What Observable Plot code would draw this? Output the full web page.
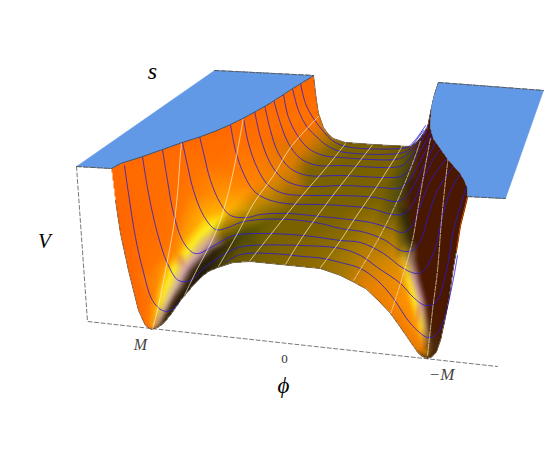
<!DOCTYPE html>
<html><head><meta charset="utf-8">
<style>html,body{margin:0;padding:0;background:#fff}svg{display:block}</style>
<script src="https://cdn.jsdelivr.net/npm/d3@7"></script>
<script src="https://cdn.jsdelivr.net/npm/@observablehq/plot@0.6"></script>
</head><body>
<script>
// All coordinates.
const silhouette = [[111,168],[120,163],[142,156],[162,149],[180,142.5],[199,136.5],[215,130.5],[229,124.5],[243,117.5],[256,110.5],[270,102.5],[283,94],[292,88],[302,82],[313,75],
[316,100],[318,113],[323,127],[328,134],[333,138],[345,142],[373,144],[400,145.5],[410,146],[418,140],[424,132],[427,127],[431,107],[434,94],[438,82],[431,107],[430,127],[433,138],[440,148],[447,158],[453,165],[460,173],[464,180],[467,187],[467,196],
[465,205],[460,225],[456,250],[453,267],[449,295],[445,317],[440,340],[436,351],[432,356],[427,358],[422,356],[418,353],[407,337],[398,324],[390,313],[378,300],[365,288],[352,281],[340,275],[320,268],[290,265],[270,263],[250,261],[233,262],[217,267],[208,271],[200,277],[190,288],[180,300],[171,313],[163,323],[157,327],[151,329],[145,325],[138,310],[128,270],[120,233],[115,200]];
const plateLeft = [[76,166],[214,70],[313,75],[302,82],[292,88],[283,94],[270,102.5],[256,110.5],[243,117.5],[229,124.5],[215,130.5],[199,136.5],[180,142.5],[162,149],[142,156],[120,163],[111,168]];
const plateRight = [[438,82],[543,90],[505,198],[467,196],[467,187],[464,180],[460,173],[453,165],[447,158],[440,148],[433,138],[430,127],[431,107],[434,94]];
const contours = [
 [[124,165],[128,193],[135,237],[142,268],[152,300],[162,310],[170,310],[178,302]],
 [[225,262],[240,254],[270,253],[303,256],[323,258],[340,262],[360,268],[377,280],[393,298],[410,323],[427,337],[435,335],[443,320],[452,283],[457,255]],
 [[142,156],[148,193],[157,233],[167,263],[178,280],[190,280],[203,268],[220,256],[235,248],[250,245],[300,245],[340,248],[360,255],[377,267],[400,283],[413,297],[425,305],[435,302],[443,283],[448,260],[453,230],[460,205],[466,186]],
 [[162,149],[167,180],[173,213],[182,240],[192,252],[198,253],[217,243],[233,235],[263,233],[303,235],[340,240],[360,242],[383,253],[403,268],[417,273],[425,268],[435,247],[441,220],[450,190],[460,173]],
 [[182,142],[187,165],[193,190],[203,215],[215,229],[225,228],[240,222],[260,219],[290,219],[320,223],[340,228],[365,232],[385,240],[400,250],[412,250],[420,240],[428,215],[437,190],[453,165]],
 [[199,136],[203,152],[210,180],[220,203],[230,215],[247,217],[260,214],[287,213],[320,216],[340,218],[370,222],[390,228],[402,232],[412,225],[420,205],[430,180],[447,157]],
 [[230,124],[235,150],[243,173],[253,190],[265,198],[285,203],[320,204],[340,205],[370,208],[392,214],[404,213],[413,202],[422,180],[432,160],[440,148]],
 [[243,117],[248,143],[257,168],[268,185],[283,193],[310,195],[340,195],[375,197],[395,201],[405,197],[415,182],[425,162],[435,142]],
 [[254,110],[260,137],[270,163],[282,178],[298,185],[320,186],[340,185],[380,187],[398,188],[407,182],[417,166],[425,150],[432,135]],
 [[264,104],[270,130],[278,153],[290,168],[307,175],[340,175],[385,177],[400,176],[408,170],[418,153],[426,140],[431,130]],
 [[273,99],[280,123],[288,143],[300,158],[317,165],[340,165],[390,167],[402,165],[410,157],[419,144],[427,130]],
 [[283,94],[288,117],[297,135],[308,148],[323,155],[340,157],[395,159],[404,156],[412,148],[420,137],[428,124]],
 [[292,88],[298,110],[307,127],[318,138],[325,144],[340,151],[398,153],[407,150],[414,142],[423,130]],
 [[300,83],[305,103],[313,118],[323,131],[332,140],[345,146],[400,148],[408,146],[416,138],[425,125]]
];
const whiteLines = [
 [[152,329],[158,305],[165,270],[173,227],[177,193],[180,153],[181,143]],
 [[183,297],[195,272],[213,237],[223,210],[233,170],[243,117]],
 [[218,266],[237,233],[253,203],[273,175],[290,147],[319,115]],
 [[248,262],[275,228],[300,197],[325,168],[345,143]],
 [[285,264],[303,235],[330,198],[352,170],[373,143]],
 [[320,267],[340,240],[355,217],[377,185],[401,147]]
];
const whiteDashed = [
 [[353,280],[377,240],[397,200],[415,155],[420,140]],
 [[390,314],[403,273],[412,240],[418,205],[424,170],[430,138]],
 [[427,355],[432,310],[437,270],[441,220],[447,163],[448,157]]
];
const rightRim = [[467,197],[465,205],[460,225],[456,250]];
const boxLines = [
 [[76,166],[87,321],[497,366]],
 [[76,166],[111,168]],
 [[214,70],[313,75]],
 [[438,82],[543,90]],
 [[467,196],[505,198]]
];
const samples = [
 // left wall
 [111,168,"#ff6a00"],[120,233,"#ff6600"],[128,270,"#ff6600"],[138,310,"#ff6a00"],[148,329,"#ff7000"],[110,200,"#ff6600"],[100,170,"#ff6a00"],[130,150,"#ff6a00"],
 [180,142,"#ff6a00"],[243,117,"#ff6a00"],[300,80,"#ff6a00"],[313,70,"#ff6a00"],[300,100,"#ff6c00"],[320,100,"#ff6c00"],
 [160,200,"#ff6e00"],[180,180,"#ff7000"],[215,160,"#ff7000"],[260,135,"#ff6e00"],[300,130,"#f87000"],
 // left valley, sections from wall side to floor side
 [146,318,"#ff7800"],[151,320,"#ff9800"],[153,322,"#f8d820"],[157,323,"#b89080"],[160,325,"#403010"],
 [148,300,"#ff7400"],[155,300,"#ffa000"],[160,300,"#ffe820"],[167,300,"#d8b8a0"],[172,302,"#402810"],[178,303,"#201808"],
 [156,284,"#ff8c00"],[166,284,"#fff020"],[176,284,"#d4b0a8"],[183,287,"#3a2810"],
 [150,267,"#ff7400"],[163,267,"#ff9800"],[173,267,"#fff020"],[185,267,"#d0a0b0"],[192,270,"#3a2810"],[200,277,"#201808"],
 [175,252,"#ff9000"],[185,252,"#fff020"],[196,255,"#cca0a8"],[203,260,"#2a2008"],
 [172,233,"#ff7400"],[185,235,"#ffa000"],[198,235,"#fff020"],[207,243,"#c89aa0"],[212,252,"#2a2008"],[225,258,"#4a4408"],[210,270,"#302808"],
 [185,195,"#ff7800"],[203,215,"#ffb000"],[212,223,"#fff018"],[221,231,"#907000"],[227,243,"#3a3008"],[243,233,"#4a4a08"],[237,257,"#6a5800"],[262,258,"#7a6200"],
 [205,170,"#ff7800"],[222,192,"#ff9400"],[230,207,"#ffb000"],[240,222,"#8a7000"],[263,223,"#6a5e00"],[275,230,"#7a6200"],
 [235,150,"#ff7400"],[253,183,"#ff8400"],[263,200,"#c08800"],[250,208,"#c08c00"],[287,210,"#7a6200"],[310,200,"#7c6200"],
 [265,125,"#ff7000"],[287,167,"#e08000"],[300,150,"#d87800"],[307,170,"#806400"],[320,150,"#a07000"],
 [300,115,"#ff7400"],[313,135,"#e07800"],[325,152,"#8a6800"],[345,165,"#7a6200"],
 [318,115,"#ff7000"],[330,133,"#b07400"],[345,142,"#7a6200"],
 // floor
 [380,145,"#7a6000"],[405,148,"#6a5600"],[370,185,"#7c6200"],[340,210,"#7c6200"],[300,235,"#7c6200"],[230,262,"#6a5a00"],[260,262,"#7a6200"],[290,266,"#886800"],[320,268,"#967000"],[340,276,"#a87800"],[352,250,"#a87c00"],[340,235,"#8a6c00"],
 // right valley
 [420,348,"#f08000"],[425,351,"#c09000"],[431,348,"#503010"],[427,359,"#503010"],
 [398,322,"#f07c00"],[414,325,"#ff9000"],[420,325,"#ffd820"],[424,325,"#c0a060"],[429,325,"#4a1e00"],
 [380,300,"#f08000"],[407,300,"#ff9400"],[414,300,"#fff020"],[420,300,"#c898a8"],[426,300,"#4a1800"],
 [365,288,"#e88000"],[400,280,"#f09000"],[408,280,"#ffe020"],[414,280,"#c898a8"],[421,280,"#4a1800"],
 [365,262,"#c88000"],[394,260,"#d88c00"],[403,260,"#e0b020"],[410,260,"#a08070"],[417,260,"#4a1800"],
 [370,228,"#a07800"],[392,235,"#a87c00"],[402,240,"#6a5a10"],[410,240,"#3a2a08"],[416,240,"#4a1800"],
 [380,195,"#7a6200"],[395,205,"#5a5010"],[403,210,"#302a08"],[411,208,"#4a1800"],
 [390,170,"#7a6200"],[402,175,"#4a4a10"],[409,180,"#3a2008"],[416,178,"#4a1800"],
 [410,150,"#504810"],[420,148,"#4a1800"],
 // right wall
 [426,125,"#4a1800"],[440,100,"#4a1800"],[470,190,"#4a1800"],[470,260,"#4a1800"],[450,340,"#4a1800"],[445,300,"#4a1800"],[440,350,"#4a1800"],[450,170,"#4a1800"],
 // corners of the frame
 [0,0,"#ff6a00"],[0,455,"#ff6a00"],[545,0,"#4a1800"],[545,455,"#4a1800"]
];
const italicLabels = ["s","V","M","\u2212M","\u03d5"];
const italicX = [152,44,140,441,283];
const italicY = [71,241,344,374,385];
const italicSize = [24,21,16,17,23];
const italicColor = ["#000","#000","#444","#444","#000"];
const zeroLabel = ["0"];

// colour table: barycentric mix of the read samples
const W = 545, H = 455;
const tbl = [new Float32Array(W*H),new Float32Array(W*H),new Float32Array(W*H)];
const sCol = samples.map(s => d3.rgb(s[2]));
const del = d3.Delaunay.from(samples, s => s[0], s => s[1]);
const t = del.triangles;
for (let i=0;i<t.length;i+=3){
  const [a,b,c]=[t[i],t[i+1],t[i+2]];
  const [ax,ay]=samples[a],[bx,by]=samples[b],[cx,cy]=samples[c];
  const den=(by-cy)*(ax-cx)+(cx-bx)*(ay-cy); if(!den) continue;
  for(let y=Math.max(0,Math.floor(Math.min(ay,by,cy)));y<=Math.min(H-1,Math.ceil(Math.max(ay,by,cy)));y++)
  for(let x=Math.max(0,Math.floor(Math.min(ax,bx,cx)));x<=Math.min(W-1,Math.ceil(Math.max(ax,bx,cx)));x++){
    const u=((by-cy)*(x-cx)+(cx-bx)*(y-cy))/den, v=((cy-ay)*(x-cx)+(ax-cx)*(y-cy))/den, w=1-u-v;
    if(u<-1e-6||v<-1e-6||w<-1e-6) continue;
    tbl[0][y*W+x]=u*sCol[a].r+v*sCol[b].r+w*sCol[c].r;
    tbl[1][y*W+x]=u*sCol[a].g+v*sCol[b].g+w*sCol[c].g;
    tbl[2][y*W+x]=u*sCol[a].b+v*sCol[b].b+w*sCol[c].b;
  }
}
tbl.forEach(ch=>d3.blur2({data:ch,width:W,height:H},1));
const fill=(x,y)=>{
  if(!d3.polygonContains(silhouette,[x,y])) return null;
  const i=Math.floor(y)*W+Math.floor(x);
  return `rgb(${tbl[0][i]|0},${tbl[1][i]|0},${tbl[2][i]|0})`;
};
const rows = lines => lines.flatMap((l,k)=>l.map(p=>({x:p[0],y:p[1],k})));
const serif = "Liberation Serif";
const plot = Plot.plot({
  width:W,height:H,margin:0,
  x:{domain:[0,W],range:[0,W],axis:null},
  y:{domain:[0,H],range:[0,H],axis:null},
  color:{type:"identity"},
  style:{background:"#fff"},
  marks:[
    Plot.line(rows(boxLines),{x:"x",y:"y",z:"k",stroke:"#555",strokeWidth:0.8,strokeDasharray:"4 2.5"}),
    Plot.raster({x1:0,x2:W,y1:0,y2:H,width:W,height:H,fill}),
    Plot.line(rows(contours),{x:"x",y:"y",z:"k",stroke:"#2a18d8",strokeWidth:0.85,strokeOpacity:0.95,curve:"catmull-rom"}),
    Plot.line(rows(whiteLines),{x:"x",y:"y",z:"k",stroke:"#fff6d8",strokeWidth:0.9,strokeOpacity:0.75,curve:"catmull-rom"}),
    Plot.line(rows(whiteDashed),{x:"x",y:"y",z:"k",stroke:"#f0e0d0",strokeWidth:1,strokeOpacity:0.7,strokeDasharray:"5 1.5",curve:"catmull-rom"}),
    Plot.line(rows([rightRim]),{x:"x",y:"y",stroke:"#ff6000",strokeWidth:1.2}),
    Plot.line(rows([silhouette]),{x:"x",y:"y",stroke:"#201000",strokeWidth:0.7,strokeOpacity:0.7}),
    Plot.line(rows([plateLeft]),{x:"x",y:"y",fill:"#6299e6",stroke:"#6299e6",strokeWidth:0.5}),
    Plot.line(rows([plateRight]),{x:"x",y:"y",fill:"#6299e6",stroke:"#6299e6",strokeWidth:0.5}),
    Plot.line(rows([plateLeft.slice(2)]),{x:"x",y:"y",stroke:"#333",strokeWidth:0.8,strokeOpacity:0.8}),
    Plot.line(rows(boxLines.slice(1)),{x:"x",y:"y",z:"k",stroke:"#555",strokeWidth:0.9,strokeDasharray:"5 2"}),
    Plot.text(italicLabels,{x:(d,i)=>italicX[i],y:(d,i)=>italicY[i],text:d=>d,fontFamily:serif,fontStyle:"italic",fontSize:(d,i)=>italicSize[i],fill:(d,i)=>italicColor[i]}),
    Plot.text(zeroLabel,{x:()=>284,y:()=>358,text:d=>d,fontFamily:serif,fontSize:13,fill:"#333"})
  ]
});
document.body.append(plot);
</script>
</body></html>
